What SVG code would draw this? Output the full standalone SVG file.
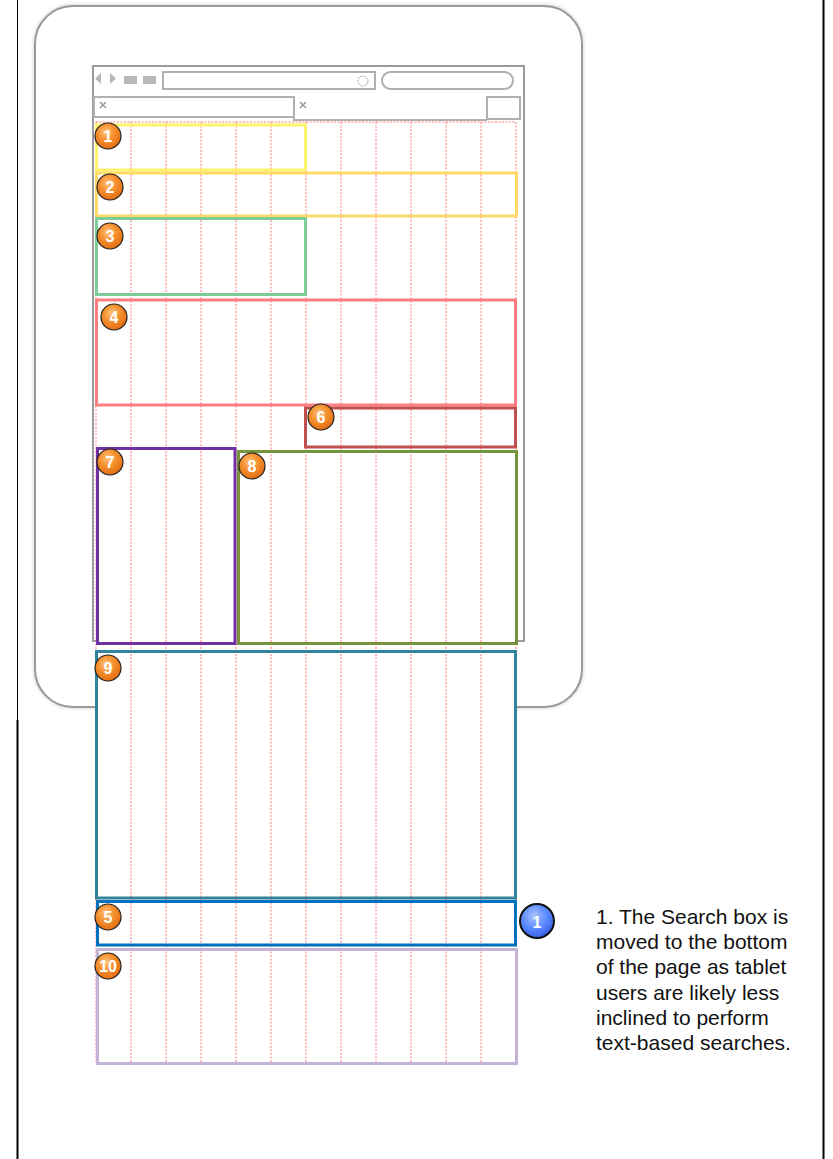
<svg xmlns="http://www.w3.org/2000/svg" width="833" height="1159" viewBox="0 0 833 1159">
<style>
.frame{fill:none;stroke:#000;}
.ui{fill:#fff;stroke:#b0b0b0;stroke-width:2;}
.uif{fill:#b8b8b8;stroke:none;}
.grid{stroke:#ff7a7a;stroke-width:1;stroke-dasharray:2,1.5;fill:none;}
.box{fill:none;stroke-width:3;}
.badge{fill:url(#og);stroke:#222;stroke-width:1.2;}
.bt{font-family:"Liberation Sans",Arial,sans-serif;font-weight:bold;font-size:16px;fill:#fff;text-anchor:middle;}
.note{font-family:"Liberation Sans",Arial,sans-serif;font-size:21px;fill:#111;}
</style>
<defs>
<radialGradient id="og" cx="0.42" cy="0.35" r="0.7">
<stop offset="0" stop-color="#ffc47e"/>
<stop offset="0.45" stop-color="#f5912f"/>
<stop offset="1" stop-color="#e0690f"/>
</radialGradient>
<radialGradient id="bg" cx="0.42" cy="0.35" r="0.7">
<stop offset="0" stop-color="#a9c4ff"/>
<stop offset="0.5" stop-color="#5f8cff"/>
<stop offset="1" stop-color="#2f5ae6"/>
</radialGradient>
<filter id="sh" x="-5%" y="-5%" width="110%" height="110%"><feGaussianBlur stdDeviation="1.5"/></filter>
</defs>
<rect width="833" height="1159" fill="#fff"/>
<g id="outer-frame">
<line class="frame" x1="17.5" y1="0" x2="17.5" y2="720" stroke-width="1"/>
<line class="frame" x1="17.5" y1="720" x2="17.5" y2="1159" stroke-width="2"/>
<line class="frame" x1="823.5" y1="0" x2="823.5" y2="1159" stroke-width="2"/>
</g>
<g id="tablet">
<rect x="35" y="6" width="547" height="701" rx="38" fill="none" stroke="#ddd" stroke-width="4" filter="url(#sh)"/>
<rect x="35" y="6" width="547" height="701" rx="38" fill="#fff" stroke="#999" stroke-width="2"/>
</g>
<g id="browser">
<rect x="93" y="66" width="431" height="575" fill="#fff" stroke="#9a9a9a" stroke-width="2"/>
<polygon class="uif" points="101,73 101,84 95,78.5"/>
<polygon class="uif" points="110,73 110,84 116,78.5"/>
<rect class="uif" x="124" y="76" width="13" height="8"/>
<rect class="uif" x="143" y="76" width="13" height="8"/>
<rect class="ui" x="163" y="72" width="212" height="17"/>
<circle cx="363" cy="81" r="5" fill="none" stroke="#999" stroke-width="1" stroke-dasharray="1.5,1"/>
<rect class="ui" x="382" y="72" width="131" height="17" rx="8.5"/>
<rect class="ui" x="94" y="97" width="200" height="20"/>
<path d="M294 97 V120 H487" fill="none" stroke="#b0b0b0" stroke-width="2"/>
<rect class="ui" x="487" y="97" width="33" height="22"/>
<path d="M100 102 l6 6 M106 102 l-6 6" stroke="#999" stroke-width="1.5"/>
<path d="M300 102 l6 6 M306 102 l-6 6" stroke="#999" stroke-width="1.5"/>
</g>
<g id="page-grid">
<rect x="96" y="122" width="420" height="942" fill="#fff"/>
<path class="grid" d="M96 122 H516 M96 1063 H516 M96 122 V1063 M131 122 V1063 M166 122 V1063 M201 122 V1063 M236 122 V1063 M271 122 V1063 M306 122 V1063 M341 122 V1063 M376 122 V1063 M411 122 V1063 M446 122 V1063 M481 122 V1063 M516 122 V1063"/>
</g>
<g id="connectors"></g>
<g id="box1"><rect class="box" x="96.5" y="125" width="209" height="45" stroke="#fff36b"/></g>
<g id="box2"><rect class="box" x="96.5" y="173" width="420" height="43" stroke="#ffd966"/></g>
<g id="box3"><rect class="box" x="96.5" y="218.5" width="209" height="76" stroke="#7ccc9a"/></g>
<g id="box4"><rect class="box" x="96.5" y="300" width="419" height="105" stroke="#ff7c80"/></g>
<g id="box6"><rect class="box" x="305.5" y="408" width="210" height="39" stroke="#c0504d"/></g>
<g id="box7"><rect class="box" x="97.5" y="448.5" width="137.5" height="195" stroke="#7030a0"/></g>
<g id="box8"><rect class="box" x="238.5" y="451.5" width="278" height="192" stroke="#76923c"/></g>
<g id="box9"><rect class="box" x="96.5" y="651.5" width="419" height="246.5" stroke="#31849b"/></g>
<g id="box5"><rect class="box" x="97.5" y="901.5" width="418" height="43.5" stroke="#0070c0"/></g>
<g id="box10"><rect class="box" x="97.5" y="949.5" width="419" height="114" stroke="#c3b4d6"/></g>
<g id="badge1"><circle class="badge" cx="108" cy="136" r="13"/><text class="bt" x="108" y="141.5">1</text></g>
<g id="badge2"><circle class="badge" cx="110" cy="187" r="13"/><text class="bt" x="110" y="192.5">2</text></g>
<g id="badge3"><circle class="badge" cx="110" cy="236" r="13"/><text class="bt" x="110" y="241.5">3</text></g>
<g id="badge4"><circle class="badge" cx="114" cy="317" r="13"/><text class="bt" x="114" y="322.5">4</text></g>
<g id="badge6"><circle class="badge" cx="321" cy="417" r="13"/><text class="bt" x="321" y="422.5">6</text></g>
<g id="badge7"><circle class="badge" cx="110" cy="462" r="13"/><text class="bt" x="110" y="467.5">7</text></g>
<g id="badge8"><circle class="badge" cx="252" cy="466" r="13"/><text class="bt" x="252" y="471.5">8</text></g>
<g id="badge9"><circle class="badge" cx="108" cy="668" r="13"/><text class="bt" x="108" y="673.5">9</text></g>
<g id="badge5"><circle class="badge" cx="108" cy="917" r="13"/><text class="bt" x="108" y="922.5">5</text></g>
<g id="badge10"><circle class="badge" cx="108" cy="966" r="13"/><text class="bt" x="108" y="971.5" font-size="15">10</text></g>
<g id="note-badge"><circle cx="537" cy="921" r="17" fill="url(#bg)" stroke="#111" stroke-width="2"/><text class="bt" x="537" y="927.5" font-size="18">1</text></g>
<g id="note">
<text class="note" x="596" y="924">1. The Search box is</text>
<text class="note" x="596" y="949">moved to the bottom</text>
<text class="note" x="596" y="974">of the page as tablet</text>
<text class="note" x="596" y="999.5">users are likely less</text>
<text class="note" x="596" y="1024.5">inclined to perform</text>
<text class="note" x="596" y="1050">text-based searches.</text>
</g>
</svg>
